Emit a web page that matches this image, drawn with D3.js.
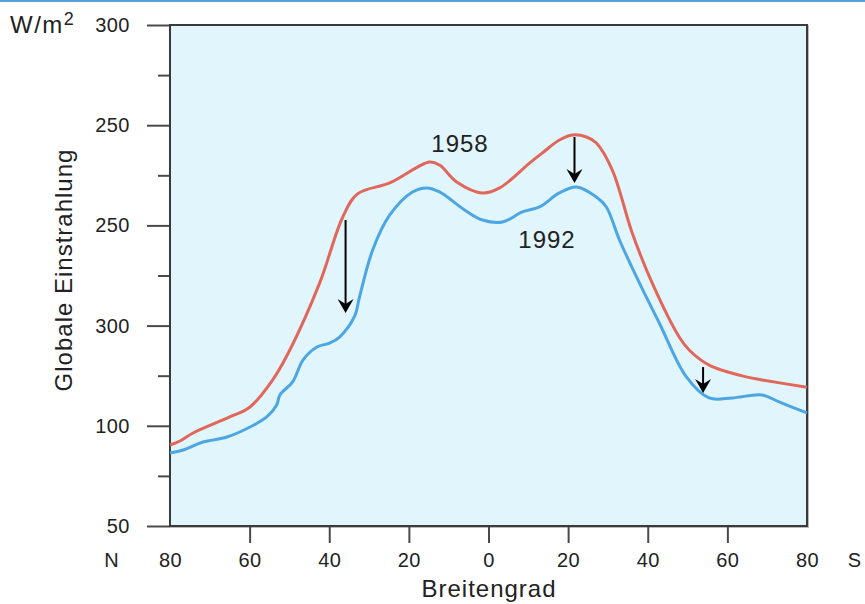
<!DOCTYPE html>
<html>
<head>
<meta charset="utf-8">
<script src="https://cdn.jsdelivr.net/npm/d3@7"></script>
<style>
  body { margin: 0; background: #fff; }
  svg { display: block; font-family: "Liberation Sans", Arial, sans-serif; }
</style>
</head>
<body>
<div id="chart"></div>
<script>
// Breitengrad: negativ = Nord, positiv = Süd
const lat1958 = [-80, -77.5, -74.2, -65, -59.9, -54.2, -49.9, -42.4, -36.6, -32.9, -24.8, -14.8, -12.3, -8, -1.5, 2.8, 10.3, 13.5, 17.8, 21.1, 24.6, 27.1, 31.1, 36.1, 41.1, 47.9, 50.4, 55.4, 64.7, 68.7, 80];
const val1958 = [90.4, 92.4, 96.4, 104.4, 109.4, 122.9, 137.8, 171.3, 204.2, 215.7, 221.2, 231.6, 230.1, 221.7, 216.2, 218.7, 231.1, 236.1, 242.6, 245.1, 244.1, 241.1, 227.6, 196.2, 171.3, 144.3, 137.8, 130.3, 124.4, 122.9, 119.2];

const lat1992 = [-80, -76.7, -71.7, -65.7, -59.9, -55.7, -53.2, -52.4, -49.2, -46.6, -43.1, -39.9, -37.4, -33.6, -32.4, -29.1, -24.8, -19.1, -15.5, -12.3, -6, -1.5, 3.5, 8.5, 12.8, 17.8, 22.1, 27.1, 29.6, 32.9, 37.9, 42.9, 49.7, 55.4, 61.2, 68.7, 73, 80];
const val1992 = [86.4, 87.9, 91.9, 94.4, 99.4, 104.4, 110.4, 115.4, 121.9, 132.8, 139.3, 141.3, 144.3, 154.8, 164.3, 187.7, 205.2, 216.7, 218.7, 216.7, 207.7, 202.7, 201.7, 206.7, 209.2, 216.2, 219.2, 214.2, 209.2, 192.7, 171.3, 151.3, 124.4, 113.9, 113.9, 115.4, 111.9, 106.4];

// Pfeile (Abnahme)
const arrowLat = [-35.9, 21.6, 53.9];
const arrowFrom = [202.7, 244.1, 129.3];
const arrowTo = [156.3, 221.2, 116.4];

// Achsen
const yTickValues = [50, 100, 150, 200, 250, 300];
const yTickLabels = ["50", "100", "300", "250", "250", "300"];
const yMinorValues = [75, 125, 175, 225, 275];
const xTickValues = [-80, -60, -40, -20, 0, 20, 40, 60, 80];
const xTickLabels = ["80", "60", "40", "20", "0", "20", "40", "60", "80"];

const width = 865, height = 604;
const plotL = 170, plotR = 807, plotT = 25, plotB = 526;

const svg = d3.select("#chart").append("svg")
  .attr("width", width)
  .attr("height", height);

svg.append("rect")
  .attr("x", 0).attr("y", 0)
  .attr("width", width).attr("height", 2)
  .attr("fill", "#5b9bd5");

const x = d3.scaleLinear().domain([-80, 80]).range([plotL, plotR]);
const y = d3.scaleLinear().domain([50, 300]).range([plotB, plotT]);

// Hintergrund + Rahmenschatten
svg.append("rect")
  .attr("x", plotL + 1).attr("y", plotT + 1)
  .attr("width", plotR - plotL).attr("height", plotB - plotT)
  .attr("fill", "none")
  .attr("stroke", "#bbb")
  .attr("stroke-width", 2);

svg.append("rect")
  .attr("x", plotL).attr("y", plotT)
  .attr("width", plotR - plotL).attr("height", plotB - plotT)
  .attr("fill", "#e1f5fd");

// y-Achse
svg.append("g")
  .attr("transform", `translate(${plotL},0)`)
  .call(d3.axisLeft(y)
    .tickValues(yTickValues)
    .tickSize(23)
    .tickPadding(17)
    .tickFormat((d, i) => yTickLabels[i]));

svg.append("g")
  .attr("transform", `translate(${plotL},0)`)
  .call(d3.axisLeft(y).tickValues(yMinorValues).tickSize(12).tickFormat(""));

// x-Achse
const xAxis = svg.append("g")
  .attr("transform", `translate(0,${plotB})`)
  .call(d3.axisBottom(x)
    .tickValues(xTickValues)
    .tickSize(17)
    .tickPadding(10)
    .tickFormat((d, i) => xTickLabels[i]));

xAxis.selectAll(".tick line")
  .filter(d => Math.abs(d) === 80)
  .remove();

svg.selectAll(".domain").remove();
svg.selectAll(".tick line")
  .attr("stroke", "#4a4a4a")
  .attr("stroke-width", 2);
svg.selectAll(".tick text")
  .attr("font-size", 20)
  .attr("font-family", "Liberation Sans, Arial, sans-serif")
  .attr("letter-spacing", 0.5)
  .attr("fill", "#222");

// Rahmen
svg.append("rect")
  .attr("x", plotL).attr("y", plotT)
  .attr("width", plotR - plotL).attr("height", plotB - plotT)
  .attr("fill", "none")
  .attr("stroke", "#3a3a3a")
  .attr("stroke-width", 2);

// Kurven
const line = d3.line()
  .x(d => x(d[0]))
  .y(d => y(d[1]))
  .curve(d3.curveCatmullRom.alpha(0.5));

svg.append("path")
  .datum(lat1958.map((l, i) => [l, val1958[i]]))
  .attr("d", line)
  .attr("fill", "none")
  .attr("stroke", "#e0675a")
  .attr("stroke-width", 3);

svg.append("path")
  .datum(lat1992.map((l, i) => [l, val1992[i]]))
  .attr("d", line)
  .attr("fill", "none")
  .attr("stroke", "#4ca6e4")
  .attr("stroke-width", 3);

// Pfeile
const arrows = svg.selectAll(".arrow")
  .data(arrowLat.map((l, i) => ({ lat: l, from: arrowFrom[i], to: arrowTo[i] })))
  .enter()
  .append("g")
  .attr("class", "arrow");

arrows.append("line")
  .attr("x1", d => x(d.lat)).attr("x2", d => x(d.lat))
  .attr("y1", d => y(d.from)).attr("y2", d => y(d.to) - 8)
  .attr("stroke", "#000")
  .attr("stroke-width", 2);

arrows.append("path")
  .attr("d", d => {
    const tx = x(d.lat), ty = y(d.to);
    return `M${tx},${ty} L${tx - 8},${ty - 14} L${tx},${ty - 9} L${tx + 8},${ty - 14} Z`;
  })
  .attr("fill", "#000");

// Beschriftungen
const label = (txt, px, py, size, anchor) => svg.append("text")
  .attr("x", px).attr("y", py)
  .attr("font-size", size)
  .attr("letter-spacing", 1)
  .attr("text-anchor", anchor)
  .attr("fill", "#222")
  .text(txt);

label("1958", 460, 152, 24, "middle");
label("1992", 547, 248, 24, "middle");
label("Breitengrad", 489, 597, 24, "middle");
label("N", 112, 567, 20, "middle");
label("S", 855, 567, 20, "middle");

svg.append("text")
  .attr("transform", "translate(72,270) rotate(-90)")
  .attr("font-size", 24)
  .attr("letter-spacing", 1)
  .attr("text-anchor", "middle")
  .attr("fill", "#222")
  .text("Globale Einstrahlung");

const unit = svg.append("text")
  .attr("x", 10).attr("y", 33)
  .attr("font-size", 24)
  .attr("letter-spacing", 1.5)
  .attr("fill", "#222");
unit.append("tspan").text("W/m");
unit.append("tspan")
  .attr("font-size", 18)
  .attr("dy", -8)
  .text("2");
</script>
</body>
</html>
